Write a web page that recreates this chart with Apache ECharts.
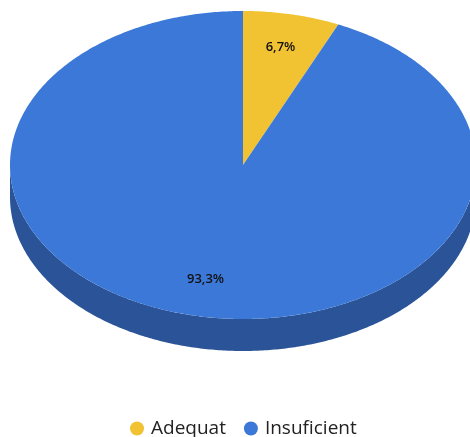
<!DOCTYPE html>
<html><head><meta charset="utf-8">
<style>html,body{margin:0;padding:0;background:#fff}#c{width:470px;height:437px}</style>
<script src="https://cdn.jsdelivr.net/npm/echarts@6/dist/echarts.min.js"></script>
</head><body><div id="c"></div>
<script>
const categories = ['Adequat', 'Insuficient'];
const values = [6.7, 93.3];
const labels = ['6,7%', '93,3%'];
const colors = ['#f1c232', '#3c78d8'];
const sideColor = '#2a5497';

const cx = 243, cy = 165, rx = 233, ry = 154, depth = 32, labelR = 0.77, labelDy = -1.5;
const total = values.reduce((a, b) => a + b, 0);
const pt = (a, k = 1, dy = 0) => [cx + rx * k * Math.sin(a), cy - ry * k * Math.cos(a) + dy];
function arc(a0, a1, dy = 0) {
  const n = Math.max(2, Math.ceil(Math.abs(a1 - a0) / 0.01)), out = [];
  for (let i = 0; i <= n; i++) out.push(pt(a0 + (a1 - a0) * i / n, 1, dy));
  return out;
}
let acc = 0;
const slices = values.map(v => {
  const a0 = acc / total * 2 * Math.PI; acc += v;
  return [a0, acc / total * 2 * Math.PI];
});

const side = {
  type: 'custom', name: 'side', coordinateSystem: 'none', silent: true, data: [[0]],
  renderItem: () => ({
    type: 'polygon',
    shape: { points: arc(Math.PI / 2, 3 * Math.PI / 2, depth).concat(arc(3 * Math.PI / 2, Math.PI / 2)) },
    style: { fill: sideColor }
  })
};
const tops = categories.map((name, i) => ({
  type: 'custom', name, coordinateSystem: 'none', silent: true, data: [[values[i]]],
  itemStyle: { color: colors[i] },
  renderItem: () => {
    const [a0, a1] = slices[i], lp = pt((a0 + a1) / 2, labelR, labelDy);
    return {
      type: 'group',
      children: [
        { type: 'polygon', shape: { points: [[cx, cy]].concat(arc(a0, a1)) }, style: { fill: colors[i] } },
        { type: 'text', z2: 10, style: { x: lp[0], y: lp[1], text: labels[i], align: 'center', verticalAlign: 'middle',
          fill: '#111', font: '600 13px "Open Sans"' } }
      ]
    };
  }
}));

const chart = echarts.init(document.getElementById('c'), null, { renderer: 'canvas' });
chart.setOption({
  animation: false,
  backgroundColor: '#fff',
  legend: {
    data: categories.map(name => ({ name, icon: 'circle' })),
    selectedMode: false, left: 125, top: 414, itemWidth: 14, itemHeight: 14, itemGap: 18,
    textStyle: { fontFamily: '"Open Sans"', fontSize: 19, color: '#222', padding: [0, 0, 0, 2] }
  },
  series: [side, ...tops]
});
</script></body></html>
